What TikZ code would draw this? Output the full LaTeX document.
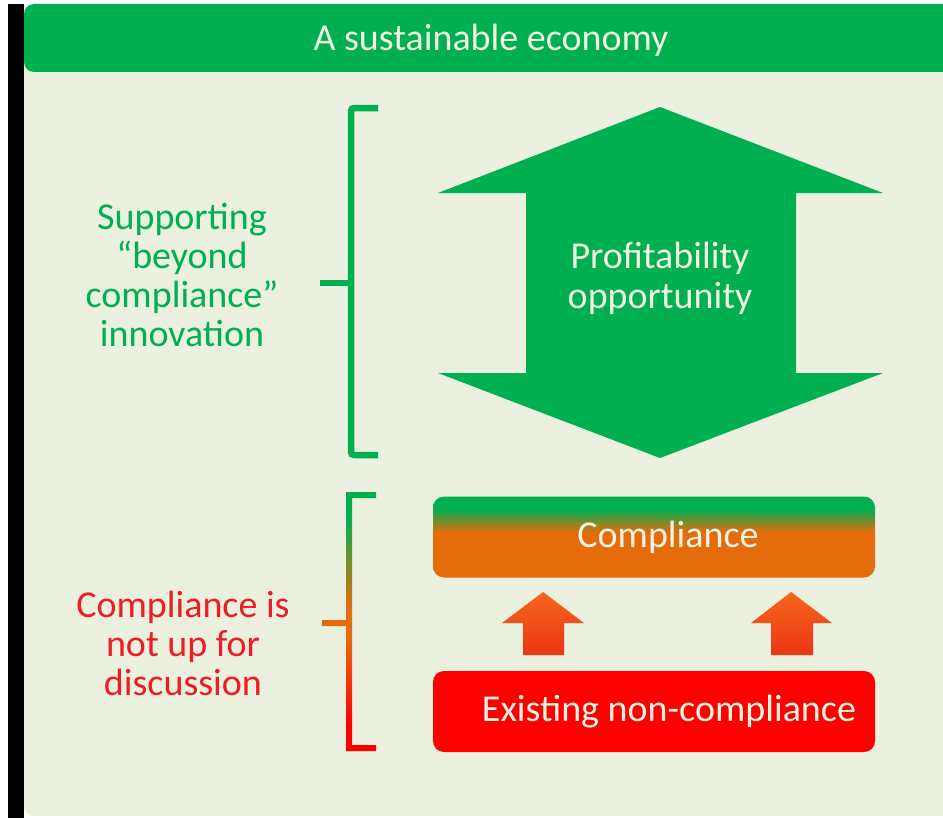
\documentclass[tikz,border=0pt]{standalone}
\usepackage{fontspec}
\setmainfont{Carlito}
\definecolor{gr}{HTML}{00B050}
\definecolor{bg}{HTML}{EBF1DE}
\definecolor{orC}{HTML}{E46C0A}
\definecolor{rdB}{HTML}{FF0000}
\definecolor{rdT}{HTML}{EE1C25}
\definecolor{lt}{HTML}{EEF3E2}
\definecolor{arT}{HTML}{F6661E}
\definecolor{arB}{HTML}{EC3512}
\pgfdeclareverticalshading{compl}{100bp}{color(0bp)=(orC); color(53bp)=(orC); color(67bp)=(gr); color(100bp)=(gr)}
\pgfdeclareverticalshading{brk}{100bp}{color(0bp)=(rdB); color(30bp)=(rdB); color(47bp)=(orC); color(53bp)=(orC); color(70bp)=(gr); color(100bp)=(gr)}
\begin{document}
\begin{tikzpicture}[x=1bp,y=-1bp,
  bigtext/.style={font=\fontsize{38bp}{40bp}\selectfont, text=lt, align=center, inner sep=0pt},
  lefttext/.style={font=\fontsize{38bp}{39bp}\selectfont, align=center, inner sep=0pt},
  boxstyle/.style={rounded corners=11bp, minimum width=442bp, font=\fontsize{38bp}{40bp}\selectfont, text=lt, inner sep=0pt},
  brace/.style={line width=6.5bp, rounded corners=3bp}]
\useasboundingbox (0,0) rectangle (943,818);
\fill[white] (0,0) rectangle (943,818);
\fill[black] (8,4) rectangle (24,818);
\fill[bg, rounded corners=10bp] (24,4) rectangle (975,816);
\fill[gr, rounded corners=10bp] (24,4) rectangle (975,72);
\node[bigtext] (title) at (491,40) {A sustainable economy};
% big double arrow
\fill[gr] (660,107) -- (883,193) -- (796,193) -- (796,373) -- (883,373) -- (660,458)
  -- (438,373) -- (526,373) -- (526,193) -- (438,193) -- cycle;
\node[bigtext] (profit) at (660,278) {Profitability\\opportunity};
% boxes
\node[boxstyle, shade, shading=compl, minimum height=81bp] (comp) at (654,537) {\hspace*{28bp}Compliance};
\node[boxstyle, fill=rdB, minimum height=81bp] (exist) at (654,711.5) {\hspace*{30bp}Existing non-compliance};
% small arrows
\shade[top color=arT, bottom color=arB] (543,592) -- (584,623) -- (564,623) -- (564,655) -- (523,655) -- (523,623) -- (502,623) -- cycle;
\shade[top color=arT, bottom color=arB] (791,592) -- (832,623) -- (813,623) -- (813,655) -- (771,655) -- (771,623) -- (751,623) -- cycle;
% upper bracket
\draw[gr, brace] (378,108) -- (351,108) -- (351,455) -- (378,455);
\draw[gr, line width=6.5bp] (320,283) -- (351,283);
% lower bracket
\shade[shading=brk] (346,492) rectangle (352,751) (346,492) rectangle (376,498)
  (346,745) rectangle (376,751) (322,620) rectangle (349,626);
% left texts
\node[lefttext, text=gr] (support) at (182,275) {Supporting\\“beyond\\compliance”\\innovation};
\node[lefttext, text=rdT] (notdisc) at (183,643) {Compliance is\\not up for\\discussion};
\end{tikzpicture}
\end{document}
